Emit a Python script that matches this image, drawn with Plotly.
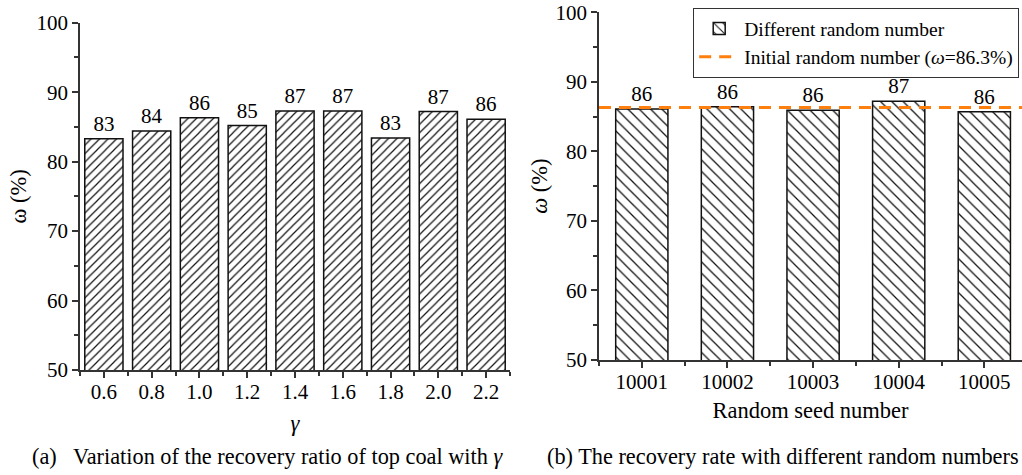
import plotly.graph_objects as go

# Panel (a): recovery ratio of top coal against gamma
gamma = [0.6, 0.8, 1.0, 1.2, 1.4, 1.6, 1.8, 2.0, 2.2]
gamma_labels = ["0.6", "0.8", "1.0", "1.2", "1.4", "1.6", "1.8", "2.0", "2.2"]
omega_gamma = [83.3, 84.4, 86.3, 85.2, 87.3, 87.3, 83.4, 87.2, 86.1]

# Panel (b): recovery rate for different random seeds
seeds = [10001, 10002, 10003, 10004, 10005]
seed_labels = ["10001", "10002", "10003", "10004", "10005"]
omega_seed = [86.1, 86.4, 85.9, 87.2, 85.7]
omega_initial = 86.3

y_ticks = [50, 60, 70, 80, 90, 100]

FONT = "Liberation Serif"
FS = 21          # tick labels and bar labels
FS_TITLE = 22.5  # axis titles
FS_LEGEND = 19.5
FS_CAPTION = 22.3
W, H = 1022, 475
AXIS_COLOR = "#333333"


def px_x(p):
    return p / W


def px_y(p):
    return (H - p) / H


fig = go.Figure()

fig.add_trace(go.Bar(
    x=gamma, y=omega_gamma, width=0.16,
    marker=dict(color="white", line=dict(color="#111111", width=1.5),
                pattern=dict(shape="/", size=6, solidity=0.2,
                             fgcolor="#111111", bgcolor="white", fgopacity=1)),
    text=omega_gamma, texttemplate="%{y:.0f}", textposition="outside",
    textfont=dict(family=FONT, size=FS, color="black"),
    cliponaxis=False, showlegend=False,
    xaxis="x", yaxis="y",
))

fig.add_trace(go.Bar(
    x=seeds, y=omega_seed, width=0.61,
    name="Different random number",
    marker=dict(color="white", line=dict(color="#111111", width=1.5),
                pattern=dict(shape="\\", size=8, solidity=0.16,
                             fgcolor="#111111", bgcolor="white", fgopacity=1)),
    text=omega_seed, texttemplate="%{y:.0f}", textposition="outside",
    textfont=dict(family=FONT, size=FS, color="black"),
    cliponaxis=False,
    xaxis="x2", yaxis="y2",
))

fig.add_trace(go.Scatter(
    x=[seeds[0] - 0.5, seeds[-1] + 0.5], y=[omega_initial, omega_initial],
    mode="lines",
    name=f"Initial random number (<i>ω</i>={omega_initial}%)",
    line=dict(color="#FF7F0E", width=3, dash="12px,8px"),
    xaxis="x2", yaxis="y2",
))

axis_common = dict(
    showline=True, linecolor=AXIS_COLOR, linewidth=1.5,
    ticks="outside", ticklen=6, tickwidth=1.5, tickcolor=AXIS_COLOR,
    showgrid=False, zeroline=False,
    tickfont=dict(family=FONT, size=FS, color="black"),
    automargin=False,
)
minor_common = dict(ticks="outside", ticklen=4, tickwidth=1.5, tickcolor=AXIS_COLOR)

fig.update_layout(
    width=W, height=H,
    margin=dict(l=0, r=0, t=0, b=0),
    paper_bgcolor="white", plot_bgcolor="white",
    font=dict(family=FONT, size=FS, color="black"),
    barmode="overlay",
    xaxis=dict(
        **axis_common,
        domain=[px_x(80), px_x(510)],
        range=[0.5, 2.3],
        tickmode="array", tickvals=gamma, ticktext=gamma_labels,
        ticklabelstandoff=-4,
        minor=dict(tickmode="linear", tick0=0.5, dtick=0.1, **minor_common),
        title=dict(text="<i>γ</i>", font=dict(family=FONT, size=FS_TITLE), standoff=12),
        anchor="y",
    ),
    yaxis=dict(
        **axis_common,
        domain=[px_y(370), px_y(22.7)],
        range=[50, 100],
        tickmode="array", tickvals=y_ticks,
        minor=dict(tickmode="linear", tick0=50, dtick=5, **minor_common),
        title=dict(text="ω (%)", font=dict(family=FONT, size=FS_TITLE), standoff=4),
        anchor="x",
    ),
    xaxis2=dict(
        **axis_common,
        domain=[px_x(599), 1.0],
        range=[10000.5, 10005.44],
        tickmode="array", tickvals=seeds, ticktext=seed_labels,
        ticklabelstandoff=-4,
        minor=dict(tickmode="linear", tick0=10000.5, dtick=0.5, **minor_common),
        title=dict(text="Random seed number", font=dict(family=FONT, size=FS_TITLE), standoff=9),
        anchor="y2",
    ),
    yaxis2=dict(
        **axis_common,
        domain=[px_y(360), px_y(12.3)],
        range=[50, 100],
        tickmode="array", tickvals=y_ticks,
        minor=dict(tickmode="linear", tick0=50, dtick=5, **minor_common),
        title=dict(text="<i>ω</i> (%)", font=dict(family=FONT, size=FS_TITLE), standoff=2),
        anchor="x2",
    ),
    legend=dict(
        x=px_x(1019), xanchor="right", y=px_y(8), yanchor="top",
        bgcolor="white", bordercolor="#333333", borderwidth=1.2,
        font=dict(family=FONT, size=FS_LEGEND, color="black"),
        itemwidth=40, tracegroupgap=0,
    ),
    annotations=[
        dict(text="(a)   Variation of the recovery ratio of top coal with <i>γ</i>",
             xref="paper", yref="paper", x=px_x(30), y=px_y(456),
             xanchor="left", yanchor="middle", showarrow=False,
             font=dict(family=FONT, size=FS_CAPTION, color="black")),
        dict(text="(b) The recovery rate with different random numbers",
             xref="paper", yref="paper", x=px_x(545), y=px_y(456),
             xanchor="left", yanchor="middle", showarrow=False,
             font=dict(family=FONT, size=FS_CAPTION, color="black")),
    ],
)

fig.write_html("out.html")
